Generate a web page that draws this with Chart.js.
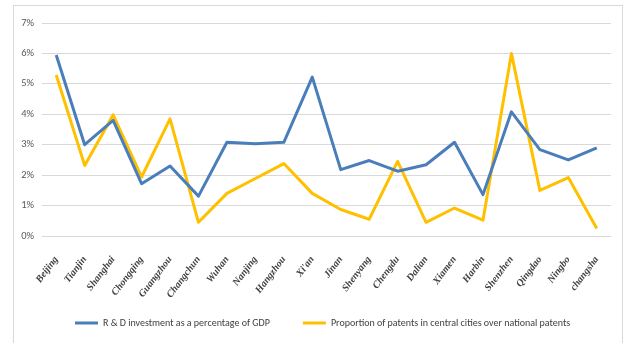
<!DOCTYPE html>
<html>
<head>
<meta charset="utf-8">
<script src="https://cdn.jsdelivr.net/npm/chart.js@4/dist/chart.umd.min.js"></script>
<style>
  html, body { margin: 0; padding: 0; background: #fff; overflow: hidden; }
  #wrap { position: relative; width: 624px; height: 343px; overflow: hidden; }
  #frame { position: absolute; left: 13px; top: 5px; width: 610px; height: 345px; border: 1px solid #d9d9d9; box-sizing: border-box; }
  #trend { position: absolute; left: 0; top: 0; }
</style>
</head>
<body>
<div id="wrap">
  <div id="frame"></div>
  <canvas id="trend" width="624" height="343"></canvas>
</div>
<script>
const cities = ["Beijing", "Tianjin", "Shanghai", "Chongqing", "Guangzhou", "Changchun", "Wuhan", "Nanjing", "Hangzhou", "Xi'an",
  "Jinan", "Shenyang", "Chengdu", "Dalian", "Xiamen", "Harbin", "Shenzhen", "Qingdao", "Ningbo", "changsha"];
const rdShare = [5.95, 3.0, 3.8, 1.72, 2.3, 1.31, 3.08, 3.03, 3.08, 5.22,
  2.18, 2.48, 2.13, 2.34, 3.08, 1.36, 4.08, 2.84, 2.5, 2.9];
const patentShare = [5.29, 2.32, 3.98, 1.94, 3.85, 0.45, 1.4, 1.89, 2.38, 1.4,
  0.87, 0.55, 2.45, 0.45, 0.92, 0.52, 6.0, 1.5, 1.92, 0.25];
const yTicks = [0, 1, 2, 3, 4, 5, 6, 7];

const calibri = "Carlito, Calibri, 'Liberation Sans', sans-serif";

const ctx = document.getElementById("trend").getContext("2d");
new Chart(ctx, {
  type: "line",
  data: {
    labels: cities,
    datasets: [{
      label: "R & D investment as a percentage of GDP",
      data: rdShare,
      borderColor: "#4a7ebb",
      backgroundColor: "#4a7ebb",
      borderWidth: 3,
      pointRadius: 0,
      tension: 0,
      borderJoinStyle: "round"
    }, {
      label: "Proportion of patents in central cities over national patents",
      data: patentShare,
      borderColor: "#ffc000",
      backgroundColor: "#ffc000",
      borderWidth: 3,
      pointRadius: 0,
      tension: 0,
      borderJoinStyle: "round"
    }]
  },
  options: {
    responsive: false,
    animation: false,
    layout: { padding: { left: 13, right: 13, top: 23, bottom: 5 } },
    plugins: {
      tooltip: { enabled: false },
      legend: {
        position: "bottom",
        fullSize: false,   // legend row spans the plot width only
        align: "start",
        labels: {
          usePointStyle: true,
          pointStyle: "line",
          pointStyleWidth: 23,
          boxHeight: 10,
          padding: 33,
          color: "#404040",
          font: { family: calibri, size: 10 }
        }
      }
    },
    scales: {
      x: {
        offset: true,
        grid: { display: false },
        border: { display: false },
        ticks: {
          autoSkip: false,
          maxRotation: 53,
          minRotation: 53,
          padding: 10,
          color: "#404040",
          font: { family: "'Liberation Serif', 'Times New Roman', serif", size: 10, weight: "bold", style: "italic" }
        },
        afterFit: (scale) => {
          scale.height = 49;
          // the slanted names run below the axis box, so don't clip them to it
          scale._computeLabelArea = () => undefined;
        }
      },
      y: {
        min: 0,
        max: 7,
        afterBuildTicks: (scale) => { scale.ticks = yTicks.map(v => ({ value: v })); },
        grid: { color: "#d9d9d9", lineWidth: 1, drawTicks: false },
        border: { display: false },
        ticks: {
          padding: 8,
          color: "#595959",
          font: { family: calibri, size: 10.5 },
          callback: (v) => v + "%"
        },
        afterFit: (scale) => { scale.width = 29; }
      }
    }
  }
});
</script>
</body>
</html>
